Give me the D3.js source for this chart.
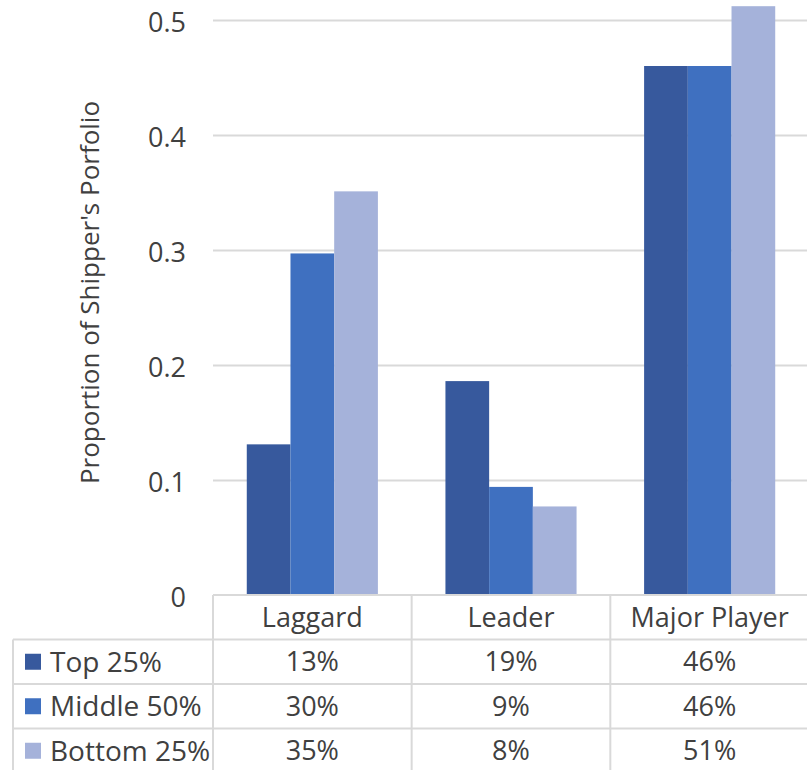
<!DOCTYPE html>
<html>
<head>
<meta charset="utf-8">
<script src="https://cdn.jsdelivr.net/npm/d3@7"></script>
<style>
  html, body { margin: 0; padding: 0; background: #fff; }
  svg { display: block; font-family: "Open Sans", sans-serif; }
</style>
</head>
<body>
<svg id="chart" width="807" height="770"></svg>
<script>
// Portfolio share by shipper segment
const categories = ["Laggard", "Leader", "Major Player"];
const seriesNames = ["Top 25%", "Middle 50%", "Bottom 25%"];
const top25 = [0.131, 0.186, 0.46];
const middle50 = [0.297, 0.094, 0.46];
const bottom25 = [0.351, 0.077, 0.512];
const yTicks = [0, 0.1, 0.2, 0.3, 0.4, 0.5];
const colors = ["#37599d", "#3f70c0", "#a5b2da"];

const seriesValues = [top25, middle50, bottom25];

const svg = d3.select("#chart");
const textColor = "#404040";
const gridColor = "#d9d9d9";

const plotLeft = 213, plotRight = 809;
const y0 = 595, yTop = 20;

const x = d3.scaleBand().domain(categories).range([plotLeft, plotRight]).padding(0);
const bw = x.bandwidth();
const x1 = d3.scaleBand().domain(seriesNames).range([bw * 0.17, bw * 0.83]).padding(0);
const y = d3.scaleLinear().domain([0, 0.5]).range([y0, yTop]);

// gridlines + y tick labels
const yAxis = d3.axisLeft(y)
  .tickValues(yTicks)
  .tickSize(-(plotRight - plotLeft))
  .tickPadding(27)
  .tickFormat(d => d === 0 ? "0" : d3.format(".1f")(d));

const gAxis = svg.append("g")
  .attr("transform", `translate(${plotLeft},0)`)
  .call(yAxis);
gAxis.select(".domain").remove();
gAxis.selectAll(".tick line")
  .attr("stroke", d => d === 0 ? "none" : gridColor)
  .attr("stroke-width", 2);
gAxis.selectAll(".tick text")
  .attr("fill", textColor)
  .attr("font-size", 27)
  .attr("font-family", "'Open Sans', sans-serif")
  .attr("dy", "0.42em");

// y axis title
svg.append("text")
  .attr("transform", `translate(99,${(95 + 490) / 2}) rotate(-90)`)
  .attr("text-anchor", "middle")
  .attr("fill", textColor)
  .attr("font-size", 26)
  .text("Proportion of Shipper's Porfolio");

// bars
const groups = svg.append("g").selectAll("g")
  .data(categories)
  .join("g")
  .attr("transform", d => `translate(${x(d)},0)`);

groups.selectAll("rect")
  .data((c, ci) => seriesNames.map((s, si) => ({ s, si, v: seriesValues[si][ci] })))
  .join("rect")
  .attr("x", d => x1(d.s))
  .attr("width", x1.bandwidth())
  .attr("y", d => y(d.v))
  .attr("height", d => y(0) - y(d.v))
  .attr("fill", d => colors[d.si]);

// data table
const rowH = 44.5;
const headerTop = y0;
const rowsTop = headerTop + rowH;
const tableLeft = 13;
const lines = svg.append("g").attr("stroke", gridColor).attr("stroke-width", 2);

// header top border
lines.append("line").attr("x1", plotLeft).attr("x2", plotRight).attr("y1", headerTop).attr("y2", headerTop);
// row borders
seriesNames.forEach((s, i) => {
  const yy = rowsTop + i * rowH;
  lines.append("line").attr("x1", tableLeft).attr("x2", plotRight).attr("y1", yy).attr("y2", yy);
});
// vertical borders
lines.append("line").attr("x1", tableLeft).attr("x2", tableLeft).attr("y1", rowsTop).attr("y2", 770);
categories.forEach(c => {
  lines.append("line").attr("x1", x(c)).attr("x2", x(c)).attr("y1", headerTop).attr("y2", 770);
});

// category headers
svg.append("g").selectAll("text")
  .data(categories)
  .join("text")
  .attr("x", d => x(d) + bw / 2)
  .attr("y", headerTop + rowH / 2)
  .attr("dy", "0.36em")
  .attr("text-anchor", "middle")
  .attr("fill", textColor)
  .attr("font-size", 27)
  .text(d => d);

// legend keys + row labels
const pct = d3.format(".0%");
seriesNames.forEach((s, si) => {
  const cy = rowsTop + si * rowH + rowH / 2;
  svg.append("rect")
    .attr("x", 25).attr("y", cy - 8)
    .attr("width", 16).attr("height", 16)
    .attr("fill", colors[si]);
  svg.append("text")
    .attr("x", 50).attr("y", cy)
    .attr("dy", "0.36em")
    .attr("fill", textColor)
    .attr("font-size", 28)
    .text(s);
  svg.append("g").selectAll("text")
    .data(categories)
    .join("text")
    .attr("x", d => x(d) + bw / 2)
    .attr("y", cy)
    .attr("dy", "0.36em")
    .attr("text-anchor", "middle")
    .attr("fill", textColor)
    .attr("font-size", 27)
    .text((d, ci) => pct(seriesValues[si][ci]));
});
</script>
</body>
</html>
